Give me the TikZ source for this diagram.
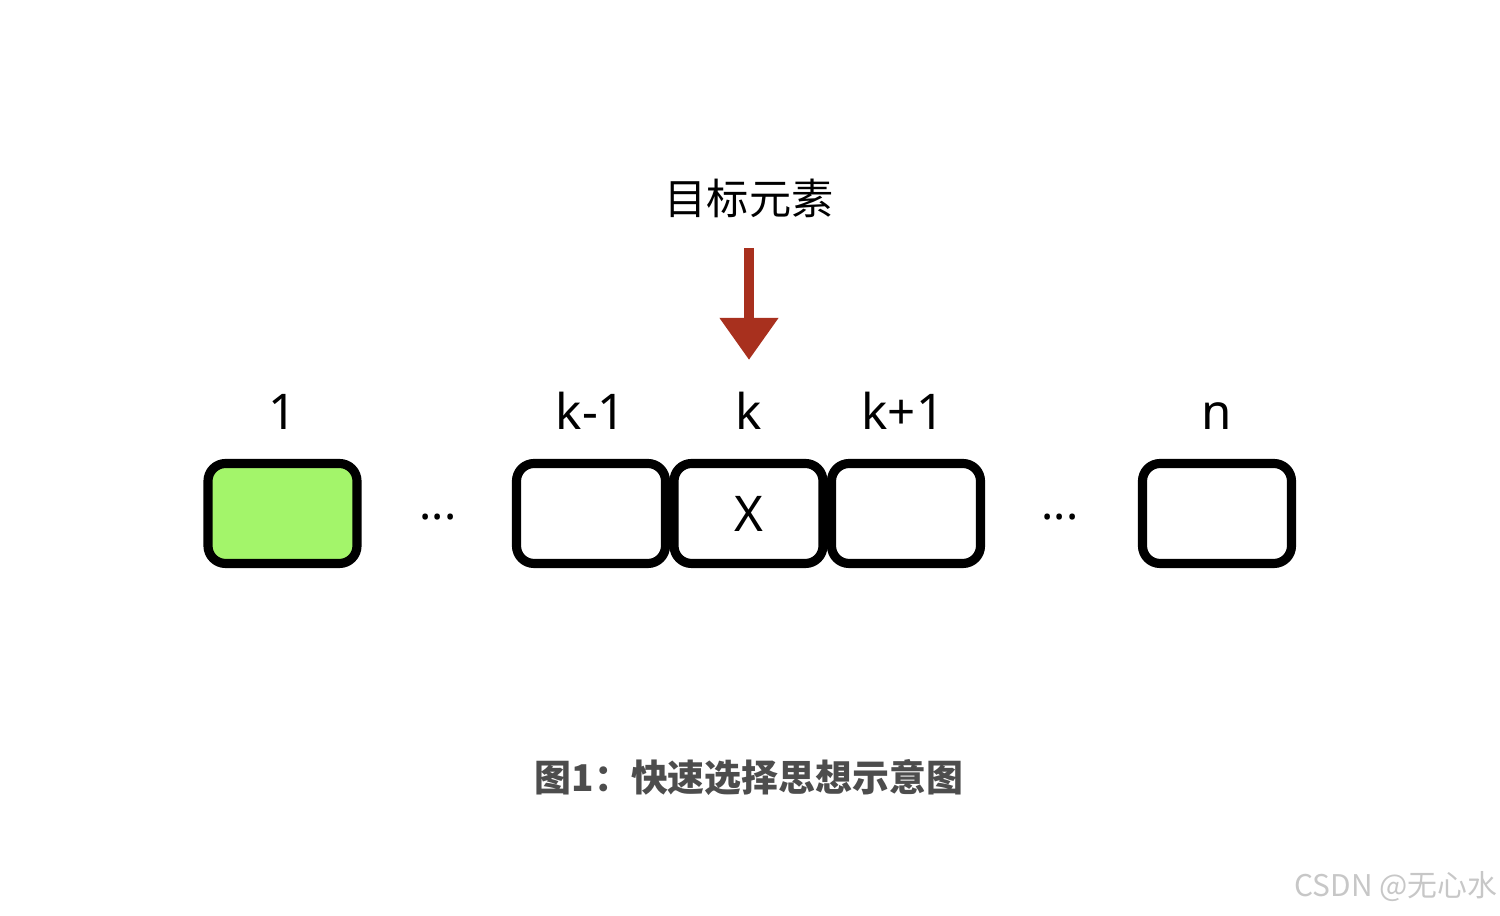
\documentclass[tikz,border=0pt]{standalone}
\usepackage{fontspec}
\setmainfont{Noto Sans}
\newfontfamily\cjk{Noto Sans CJK SC}
\usetikzlibrary{positioning,arrows.meta}
\definecolor{arrowred}{HTML}{A8301E}
\definecolor{cellgreen}{HTML}{A3F56A}
\definecolor{capgray}{HTML}{4D4D4D}
\tikzset{
  cell/.style={draw=black, line width=2.6pt, rounded corners=5pt, line join=round,
    minimum width=1.49cm, minimum height=1.0cm, inner sep=0pt, outer sep=0pt,
    font=\fontsize{14}{16}\selectfont},
  idx/.style={font=\fontsize{14}{16}\selectfont, inner sep=0pt, anchor=base},
  dots/.style={font=\fontsize{13}{15}\selectfont, inner sep=0pt}
}

\begin{document}
\begin{tikzpicture}
	\useasboundingbox (0,0) rectangle (15,-9.16);
	% cells
		\node[cell, fill=cellgreen] (c1) at (2.825,-5.135) {};
		\node[cell] (ck) at (7.485,-5.135) {X};
		\node[cell, left=0.085cm of ck] (ckm) {};
		\node[cell, right=0.085cm of ck] (ckp) {};
		\node[cell] (cn) at (12.17,-5.135) {};
		\node[dots] (d1) at (4.38,-5.17) {...};
		\node[dots] (d2) at (10.60,-5.17) {...};
	% indices
		\node[idx] (l1) at (2.825,-4.30) {1};
		\node[idx] (lkm) at (5.91,-4.30) {k-1};
		\node[idx] (lk) at (7.485,-4.30) {k};
		\node[idx] (lkp) at (9.03,-4.30) {k+1};
		\node[idx] (ln) at (12.17,-4.30) {n};
	% target
		\node[font=\cjk\fontsize{12}{15}\selectfont, inner sep=0pt] (goal) at (7.49,-1.98) {目标元素};
		\coordinate (a0) at (7.49,-2.48);
		\coordinate (a1) at (7.49,-3.60);
		\draw[arrowred, line width=3pt, -{Triangle[width=0.56cm,length=0.42cm]}] (a0) -- (a1);
	% caption
		\node[font=\cjk\bfseries\fontsize{10.5}{13}\selectfont, text=capgray, inner sep=0pt] (cap) at (7.49,-7.78) {图1：快速选择思想示意图};
		\node[font=\cjk\fontsize{8.5}{10}\selectfont, text=black!22, inner sep=0pt] (wm) at (13.96,-8.87) {CSDN @无心水};
\end{tikzpicture}
\end{document}
